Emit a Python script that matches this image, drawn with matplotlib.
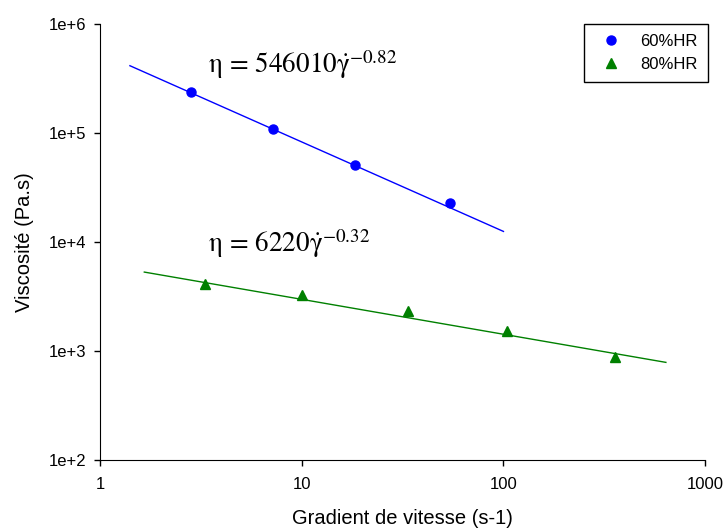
import matplotlib
matplotlib.use('Agg')
import matplotlib.pyplot as plt
import numpy as np

plt.rcParams['font.family'] = ['Liberation Sans', 'DejaVu Sans']
plt.rcParams['mathtext.fontset'] = 'stix'

# données
x60 = [2.8, 7.2, 18.4, 54]
y60 = [2.38e5, 1.09e5, 5.1e4, 2.28e4]
x80 = [3.3, 10, 33.6, 104, 357]
y80 = [4.1e3, 3.25e3, 2.33e3, 1.53e3, 880]

# lois de puissance
k60, n60 = 546010, -0.82
k80, n80 = 6220, -0.32
fit60_range = [1.4, 100]
fit80_range = [1.65, 640]

fig = plt.figure(figsize=(7.26, 5.29), dpi=100)
ax = fig.add_axes([0.1384, 0.1304, 0.8326, 0.8242])

xf = np.array(fit60_range)
ax.plot(xf, k60 * xf ** n60, color='#0000ff', lw=1)
xf = np.array(fit80_range)
ax.plot(xf, k80 * xf ** n80, color='#008000', lw=1)

ax.plot(x60, y60, 'o', color='#0000ff', ms=6.5, label='60%HR')
ax.plot(x80, y80, '^', color='#008000', ms=7, label='80%HR')

ax.set_xscale('log')
ax.set_yscale('log')
ax.set_xlim(1, 1000)
ax.set_ylim(1e2, 1e6)
ax.minorticks_off()
ax.set_xticks([1, 10, 100, 1000])
ax.set_xticklabels(['1', '10', '100', '1000'])
ax.set_yticks([1e2, 1e3, 1e4, 1e5, 1e6])
ax.set_yticklabels(['1e+2', '1e+3', '1e+4', '1e+5', '1e+6'])
ax.tick_params(direction='out', length=4.5, width=1, labelsize=12)
ax.tick_params(axis='x', pad=8)
ax.tick_params(axis='y', pad=6)

ax.spines['top'].set_visible(False)
ax.spines['right'].set_visible(False)

ax.set_xlabel('Gradient de vitesse (s-1)', fontsize=14.5, labelpad=12)
ax.set_ylabel('Viscosité (Pa.s)', fontsize=14.5, labelpad=10)

ax.text(3.43, 3.55e5, r'$\mathrm{\eta}\,=\,546010\dot{\mathrm{\gamma}}^{-0.82}$', fontsize=19.5, va='baseline')
ax.text(3.43, 8.1e3, r'$\mathrm{\eta}\,=\,6220\dot{\mathrm{\gamma}}^{-0.32}$', fontsize=19.5, va='baseline')

leg = ax.legend(loc='upper right', bbox_to_anchor=(1.005, 1.0), borderaxespad=0,
                fontsize=12, fancybox=False, edgecolor='black', framealpha=1,
                handlelength=2, handletextpad=0.8, borderpad=0.6, labelspacing=0.45)
leg.get_frame().set_linewidth(1)

fig.savefig('out.png', dpi=100)
